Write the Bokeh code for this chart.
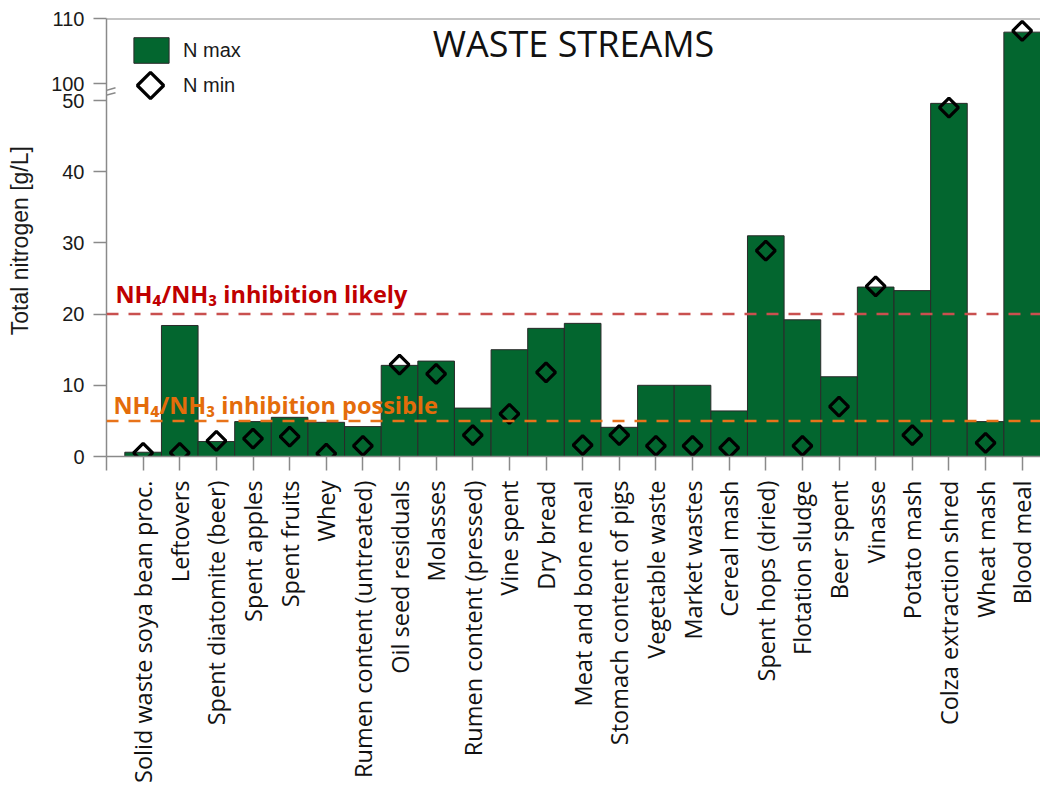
import math
from bokeh.plotting import figure
from bokeh.models import (Range1d, FixedTicker, Span, Label, Legend, LegendItem,
                          ColumnDataSource, Arrow, CDSView, BooleanFilter,
                          CustomJSTickFormatter)
from bokeh.embed import file_html
from bokeh.resources import INLINE

# ---------------- data ----------------
categories = [
    "Solid waste soya bean proc.", "Leftovers", "Spent diatomite (beer)", "Spent apples",
    "Spent fruits", "Whey", "Rumen content (untreated)", "Oil seed residuals", "Molasses",
    "Rumen content (pressed)", "Vine spent", "Dry bread", "Meat and bone meal",
    "Stomach content of pigs", "Vegetable waste", "Market wastes", "Cereal mash",
    "Spent hops (dried)", "Flotation sludge", "Beer spent", "Vinasse", "Potato mash",
    "Colza extraction shred", "Wheat mash", "Blood meal",
]
n_max = [0.6, 18.4, 2.1, 4.9, 5.5, 4.8, 4.2, 12.8, 13.4, 6.8, 15.0, 18.0, 18.7,
         4.1, 10.0, 10.0, 6.4, 31.0, 19.2, 11.2, 23.8, 23.3, 49.6, 4.9, 107.9]
n_min = [0.5, 0.5, 2.2, 2.5, 2.8, 0.4, 1.5, 12.9, 11.6, 3.0, 6.0, 11.8, 1.6,
         3.0, 1.5, 1.5, 1.2, 28.9, 1.5, 7.0, 23.9, 3.0, 49.0, 1.9, 108.1]
lower_ticks = [0, 10, 20, 30, 40, 50]
upper_ticks = [100, 110]
limit_likely = 20
limit_possible = 5

# broken y axis: lower segment 0..50, upper segment 100..110
LOW_END = 61.52           # lower-scale value at the top of the frame
UP_START, UP_END = 42.62, 110.0   # upper-scale values at bottom / top of the frame
BREAK = 50.5

# ---------------- styling ----------------
GREEN = "#03662f"
AXIS = "#8a8a8a"
TICKFONT = "Liberation Sans"
CATFONT = "Open Sans"

idx = list(range(len(categories)))
src = ColumnDataSource(dict(x=idx, cat=categories, nmax=n_max, nmin=n_min))
x_range = Range1d(-1, 24.5)

p = figure(x_range=x_range, y_range=Range1d(0, LOW_END), frame_width=934, frame_height=438,
           min_border_left=106, min_border_right=0, min_border_top=18, min_border_bottom=0,
           output_backend="svg", toolbar_location=None)
p.extra_y_ranges = {"upper": Range1d(UP_START, UP_END)}
p.xgrid.visible = False
p.ygrid.visible = False
p.outline_line_color = None
p.background_fill_color = "white"
p.border_fill_color = "white"


def upper_to_lower(v):
    return (v - UP_START) / (UP_END - UP_START) * LOW_END


# ---- y axis (one axis carrying both segments) ----
ya = p.yaxis[0]
ya.ticker = FixedTicker(ticks=lower_ticks + [upper_to_lower(v) for v in upper_ticks])
ya.formatter = CustomJSTickFormatter(
    args=dict(brk=BREAK, low_end=LOW_END, up_start=UP_START, up_end=UP_END),
    code="""
        if (tick > brk) {
            return String(Math.round(up_start + tick / low_end * (up_end - up_start)));
        }
        return String(Math.round(tick));
    """)
ya.axis_line_color = AXIS
ya.axis_line_width = 1.5
ya.major_tick_line_color = AXIS
ya.major_tick_line_width = 1.5
ya.major_tick_out = 13
ya.major_tick_in = 0
ya.minor_tick_line_color = None
ya.major_label_text_font = TICKFONT
ya.major_label_text_font_size = "20px"
ya.major_label_text_color = "#1a1a1a"
ya.major_label_standoff = 9
ya.axis_label = "Total nitrogen  [g/L]"
ya.axis_label_text_font = TICKFONT
ya.axis_label_text_font_size = "23px"
ya.axis_label_text_font_style = "normal"
ya.axis_label_text_color = "#1a1a1a"
ya.axis_label_standoff = 15

# ---- x axis ----
xa = p.xaxis[0]
xa.ticker = FixedTicker(ticks=list(range(-1, len(categories))))
overrides = {i: c for i, c in enumerate(categories)}
overrides[-1] = ""
xa.major_label_overrides = overrides
xa.major_label_orientation = math.pi / 2
xa.major_label_text_font = CATFONT
xa.major_label_text_font_size = "23.5px"
xa.major_label_text_color = "#111111"
xa.major_label_standoff = 10
xa.axis_line_color = AXIS
xa.axis_line_width = 1.5
xa.major_tick_line_color = AXIS
xa.major_tick_line_width = 1.5
xa.major_tick_out = 14
xa.major_tick_in = 0
xa.minor_tick_line_color = None

# ---- bars & markers, split over the two axis segments ----
low_bar = CDSView(filter=BooleanFilter([v <= BREAK for v in n_max]))
up_bar = CDSView(filter=BooleanFilter([v > BREAK for v in n_max]))
low_pt = CDSView(filter=BooleanFilter([v <= BREAK for v in n_min]))
up_pt = CDSView(filter=BooleanFilter([v > BREAK for v in n_min]))

bar_kw = dict(x="x", top="nmax", bottom=0, width=1, source=src,
              fill_color=GREEN, line_color="#2a2a2a", line_width=1)
b_low = p.vbar(view=low_bar, **bar_kw)
b_up = p.vbar(view=up_bar, y_range_name="upper", **bar_kw)


def add_min_markers(view, **kw):
    try:
        return p.ngon(x="x", y="nmin", source=src, view=view, radius=9.5,
                      radius_units="screen", n=4, fill_alpha=0, line_color="black",
                      line_width=3.2, **kw)
    except Exception:
        return p.scatter(x="x", y="nmin", source=src, view=view, marker="diamond",
                         size=20, fill_alpha=0, line_color="black", line_width=3.2, **kw)


m_low = add_min_markers(low_pt)
m_up = add_min_markers(up_pt, y_range_name="upper")

# ---- threshold lines ----
p.add_layout(Span(location=limit_likely, dimension="width", line_color="#c9504f",
                  line_width=2.5, line_dash="12 10"))
p.add_layout(Span(location=limit_possible, dimension="width", line_color="#e8731a",
                  line_width=2.5, line_dash="12 10"))
p.add_layout(Label(x=x_range.start, y=limit_likely, x_offset=9, y_offset=20,
                   text="NH\u2084/NH\u2083 inhibition likely", text_font="Open Sans",
                   text_font_style="bold", text_font_size="23.5px", text_color="#c00000",
                   text_baseline="alphabetic"))
p.add_layout(Label(x=x_range.start, y=limit_possible, x_offset=7, y_offset=16,
                   text="NH\u2084/NH\u2083 inhibition possible", text_font="Open Sans",
                   text_font_style="bold", text_font_size="23.5px", text_color="#e46c0a",
                   text_baseline="alphabetic"))

# top frame line at 110
p.add_layout(Span(location=UP_END, dimension="width", line_color=AXIS, line_width=2,
                  y_range_name="upper"))

# title
p.add_layout(Label(x=(x_range.start + x_range.end) / 2, y=106.1, y_range_name="upper",
                   text="WASTE STREAMS", text_font="Open Sans", text_font_size="36px",
                   text_color="#111111", text_align="center", text_baseline="middle"))

# legends
common = dict(orientation="vertical", padding=0, margin=0,
              label_text_font=TICKFONT, label_text_font_size="20px",
              label_text_color="#1a1a1a", border_line_color=None, background_fill_alpha=0)
leg_max = Legend(items=[LegendItem(label="N max", renderers=[b_low])],
                 location=(23, 390), glyph_width=44, glyph_height=32, label_standoff=10,
                 **common)
leg_min = Legend(items=[LegendItem(label="N min", renderers=[m_low])],
                 location=(11, 338), glyph_width=66, glyph_height=66, label_standoff=0,
                 **common)
p.add_layout(leg_max)
p.add_layout(leg_min)

# axis break marks ("//" across the axis line)
p.add_layout(Arrow(x_start=-1.273, y_start=upper_to_lower(98.51), x_end=-0.754,
                   y_end=upper_to_lower(99.34), end=None, line_color=AXIS, line_width=1.5))
p.add_layout(Arrow(x_start=-1.273, y_start=50.38, x_end=-0.754, y_end=51.08, end=None,
                   line_color=AXIS, line_width=1.5))

open("out.html", "w").write(file_html(p, INLINE))
